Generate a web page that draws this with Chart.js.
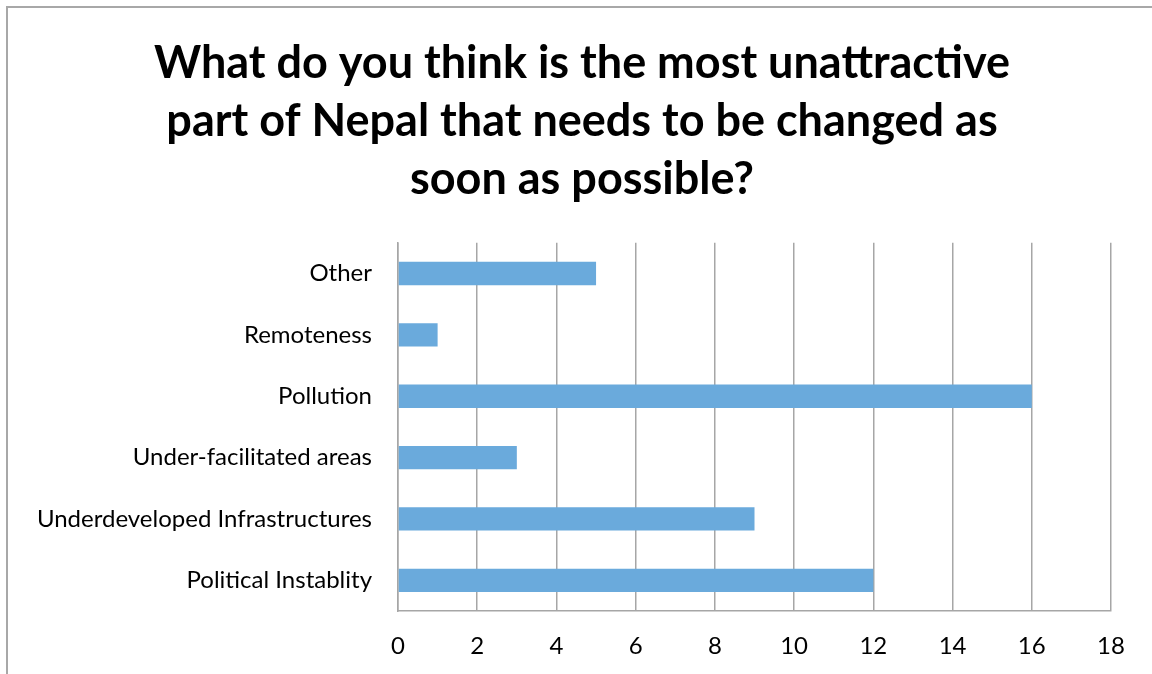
<!DOCTYPE html>
<html>
<head>
<meta charset="utf-8">
<script src="https://cdn.jsdelivr.net/npm/chart.js@4"></script>
<style>
  html, body { margin: 0; padding: 0; background: #fff; overflow: hidden; }
  #wrap { position: relative; width: 1152px; height: 674px; }
  #frame { position: absolute; left: 6px; top: 6px; width: 1160px; height: 680px; border: 2px solid #a8a8a8; box-sizing: border-box; pointer-events: none; }
</style>
</head>
<body>
<div id="wrap">
  <canvas id="surveyChart" width="1152" height="674"></canvas>
  <div id="frame"></div>
</div>
<script>
const titleLines = [
    "What do you think is the most unattractive",
    "part of Nepal that needs to be changed as",
    "soon as possible?"
];
const categories = [
    "Other",
    "Remoteness",
    "Pollution",
    "Under-facilitated areas",
    "Underdeveloped Infrastructures",
    "Political Instablity"
];
const responses = [5, 1, 16, 3, 9, 12];
const axisMin = 0;
const axisMax = 18;
const axisStep = 2;

const ctx = document.getElementById("surveyChart").getContext("2d");

new Chart(ctx, {
    type: "bar",
    data: {
        labels: categories,
        datasets: [
            {
                label: "Responses",
                data: responses,
                backgroundColor: "#6aaadc",
                borderWidth: 0,
                categoryPercentage: 1,
                barPercentage: 0.38
            }
        ]
    },
    options: {
        indexAxis: "y",
        responsive: false,
        animation: false,
        layout: {
            // title is centred on the outer frame
            padding: { left: 12, right: 0, top: 0, bottom: 0 }
        },
        plugins: {
            legend: { display: false },
            tooltip: { enabled: false },
            title: {
                display: true,
                text: titleLines,
                color: "#000",
                font: { family: "Lato", size: 45, weight: "bold", lineHeight: 1.28 },
                padding: { top: 35, bottom: 35 }
            }
        },
        scales: {
            x: {
                min: axisMin,
                max: axisMax,
                ticks: {
                    stepSize: axisStep,
                    color: "#000",
                    padding: 21,
                    font: { family: "Lato", size: 24 }
                },
                grid: {
                    color: "#a6a6a6",
                    lineWidth: 1.5,
                    drawTicks: false
                },
                border: { color: "#a6a6a6", width: 1.5 },
                afterFit: function(scale) {
                    scale.height = 63;
                    scale.paddingRight = 41;
                }
            },
            y: {
                ticks: {
                    color: "#000",
                    padding: 26,
                    font: { family: "Lato", size: 24 }
                },
                grid: { display: false, drawTicks: false },
                border: { color: "#a6a6a6", width: 1.5 },
                afterFit: function(scale) {
                    scale.width = 386;
                }
            }
        }
    }
});
</script>
</body>
</html>
